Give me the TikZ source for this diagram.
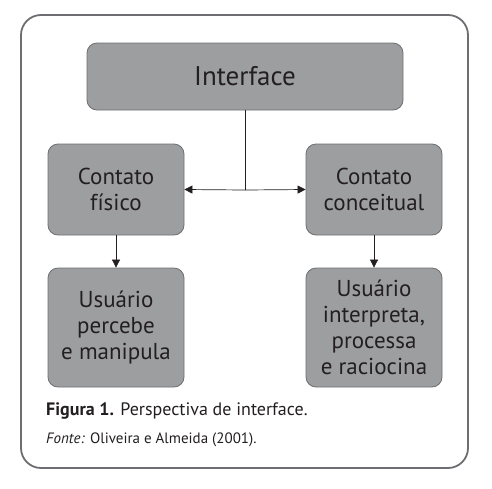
\documentclass[tikz,border=0pt]{standalone}
\usepackage{fontspec}
\setmainfont{PT Sans}
\usetikzlibrary{arrows.meta}
\definecolor{boxfill}{HTML}{9D9EA0}
\definecolor{boxline}{HTML}{6D6E71}
\definecolor{txt}{HTML}{231F20}
\begin{document}
\begin{tikzpicture}[x=1pt,y=-1pt,
  box/.style={draw=boxline,line width=0.8pt,fill=boxfill,rounded corners=10pt,
    align=center,text=txt,font=\fontsize{23}{26}\selectfont,inner sep=0pt},
  conn/.style={draw=txt,line width=0.7pt},
  arr/.style={conn,-{Triangle[length=8pt,width=8pt]}}]
\useasboundingbox (0,0) rectangle (492,488);
\draw[boxline,line width=1.8pt,rounded corners=20pt] (21,15) rectangle (468,468);
\node[box,minimum width=316pt,minimum height=67pt,font=\fontsize{27}{30}\selectfont] (int) at (245,76.5) {Interface};
\node[box,minimum width=136pt,minimum height=91pt] (cf) at (116,189.5) {Contato\\físico};
\node[box,minimum width=136pt,minimum height=91pt] (cc) at (374,189.5) {Contato\\conceitual};
\node[box,minimum width=136pt,minimum height=119pt] (up) at (116,327.5) {Usuário\\percebe\\e manipula};
\node[box,minimum width=136pt,minimum height=119pt] (ui) at (374,327.5) {Usuário\\interpreta,\\processa\\e raciocina};
\coordinate (j) at (245,190);
\draw[conn] (int.south) -- (j);
\draw[arr] (j) -- (cf.east);
\draw[arr] (j) -- (cc.west);
\draw[arr] (cf.south) -- (up.north);
\draw[arr] (cc.south) -- (ui.north);
\node[anchor=base west,inner sep=0pt,text=txt,font=\fontsize{18}{21}\selectfont] (cap) at (46,415) {\textbf{Figura 1.} Perspectiva de interface.};
\node[anchor=base west,inner sep=0pt,text=txt,font=\fontsize{15}{18}\selectfont] (src) at (46,443) {\textit{Fonte:} Oliveira e Almeida (2001).};
\end{tikzpicture}
\end{document}
